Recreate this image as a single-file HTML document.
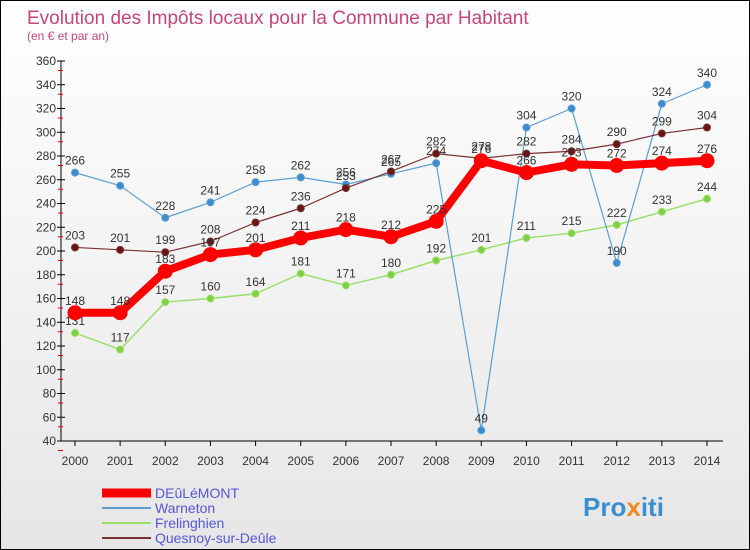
<!DOCTYPE html>
<html><head><meta charset="utf-8"><style>
body{margin:0}
#c{width:748px;height:548px;border:1px solid #000;background:linear-gradient(#fff,#e6e6e6);position:relative;font-family:"Liberation Sans",sans-serif;overflow:hidden}
</style></head><body>
<div id="c">
<svg id="s" width="748" height="548" style="position:absolute;left:0;top:0">
<text x="26" y="23" font-size="19" fill="#c8457a">Evolution des Impôts locaux pour la Commune par Habitant</text>
<text x="26" y="39" font-size="12" fill="#c8457a">(en € et par an)</text>
<g id="axes"></g><g id="series"></g>
<text x="582" y="515" font-size="26" font-weight="bold" fill="#3a8fd0">Pro<tspan fill="#f08a1c">x</tspan>iti</text>
</svg>
</div>
<script>
const years=[2000,2001,2002,2003,2004,2005,2006,2007,2008,2009,2010,2011,2012,2013,2014];
const deulemont=[148,148,183,197,201,211,218,212,225,276,266,273,272,274,276];
const warneton=[266,255,228,241,258,262,256,265,274,49,304,320,190,324,340];
const frelinghien=[131,117,157,160,164,181,171,180,192,201,211,215,222,233,244];
const quesnoy=[203,201,199,208,224,236,253,267,282,278,282,284,290,299,304];
const yTicks=[40,60,80,100,120,140,160,180,200,220,240,260,280,300,320,340,360];
const seriesNames=["DEûLéMONT","Warneton","Frelinghien","Quesnoy-sur-Deûle"];
const NS="http://www.w3.org/2000/svg";
const X=i=>74+i*(706-74)/14;
const Y=v=>440-(v-40)*380/320;
function mk(t,a,p){const e=document.createElementNS(NS,t);for(const k in a)e.setAttribute(k,a[k]);p.appendChild(e);return e;}
const ax=document.getElementById('axes'),sg=document.getElementById('series');
const yl=mk('line',{x1:60,y1:60,x2:60,y2:440,stroke:'#000'},ax);

const xl=mk('line',{x1:60,y1:440,x2:722,y2:440,stroke:'#000'},ax);

yTicks.forEach(v=>{const y=Y(v);
 mk('line',{x1:56,y1:y,x2:64,y2:y,stroke:'#000'},ax);
 mk('line',{x1:722,y1:y,x2:60,y2:y,stroke:'#fff','stroke-width':0},ax);
 mk('line',{x1:57,y1:y+9.5,x2:62,y2:y+9.5,stroke:'#e00'},ax);
 const t=mk('text',{x:55,y:y+4,'font-size':12,fill:'#333','text-anchor':'end'},ax);t.textContent=v;
 });
years.forEach((yr,i)=>{const x=X(i);
 mk('line',{x1:x,y1:440,x2:x,y2:445,stroke:'#000'},ax);
 const t=mk('text',{x:x,y:464,'font-size':12,fill:'#333','text-anchor':'middle'},ax);t.textContent=yr;
 });
function draw(data,color,w,r,fill,name){
 const g=mk('g',{},sg);
 mk('polyline',{points:data.map((v,i)=>X(i)+','+Y(v)).join(' '),fill:'none',stroke:color,'stroke-width':w,'stroke-linejoin':'round'},g);
 data.forEach((v,i)=>{const c=mk('circle',{cx:X(i),cy:Y(v),r:r,fill:fill,stroke:color,'stroke-width':1},g);
  
  const t=mk('text',{x:X(i),y:Y(v)-8,'font-size':12,fill:'#333','text-anchor':'middle'},g);t.textContent=v;});
}
draw(frelinghien,'#9adf6a',1.5,3.5,'#7fcf45','frelinghien-series');
draw(warneton,'#5a9fd4',1.2,3.5,'#3d8ccf','warneton-series');
draw(quesnoy,'#7a3030',1.2,3.5,'#6a1515','quesnoy-series');
draw(deulemont,'#f00',8,7,'#f00','deulemont-series');
const lc=['#f00','#5a9fd4','#9adf6a','#7a3030'],lw=[9,2,2,2];
seriesNames.forEach((n,i)=>{const y=492+i*15;
 const g=mk('g',{},sg);
 mk('line',{x1:101,y1:y,x2:150,y2:y,stroke:lc[i],'stroke-width':lw[i]},g);
 const t=mk('text',{x:154,y:y+5,'font-size':14,fill:'#5555dd'},g);t.textContent=n;});
</script>
</body></html>
